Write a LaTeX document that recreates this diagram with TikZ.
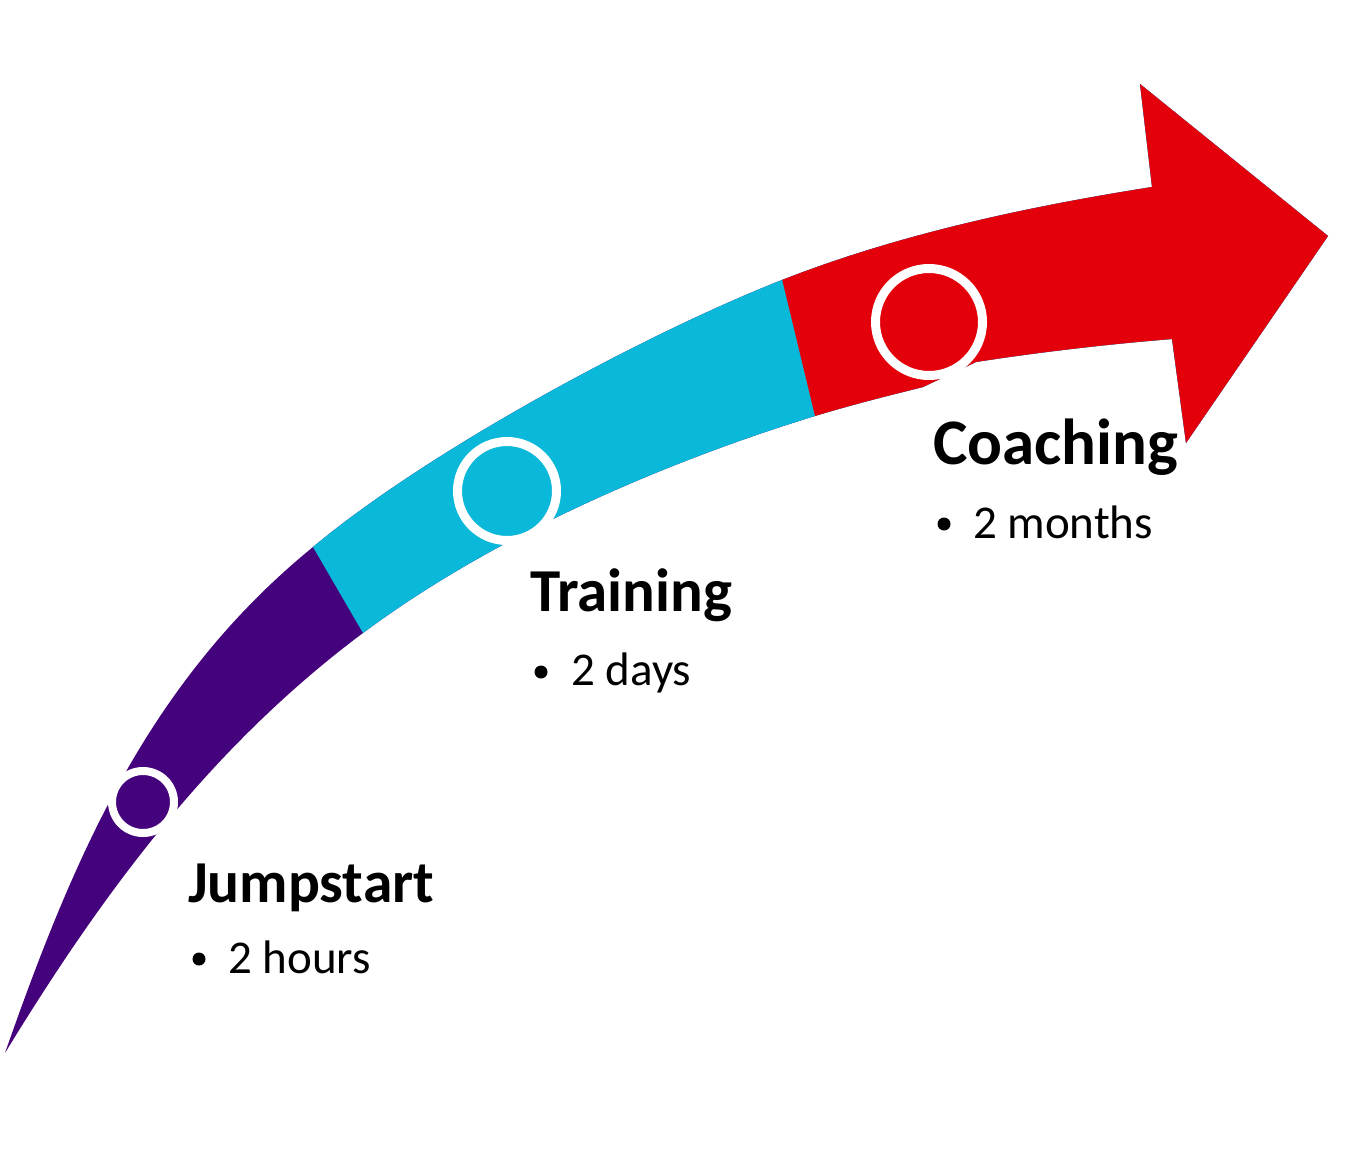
\documentclass[tikz,border=0pt]{standalone}
\usepackage{fontspec}
\setmainfont{Carlito}
\definecolor{jpurple}{HTML}{44037C}
\definecolor{jcyan}{HTML}{0AB8D9}
\definecolor{jred}{HTML}{E3000B}
\newcommand\bandpath{(5,1053) .. controls (75,853) and (150,680) .. (313,547)
  .. controls (433,447) and (652,331) .. (782,280)
  .. controls (902,233) and (1032,206) .. (1152,187)
  -- (1140,84) -- (1328,236) -- (1186,443) -- (1172,339)
  .. controls (1110,344) and (1040,352) .. (976,362) -- (923,387)
  .. controls (887,396) and (851,405) .. (815,416)
  .. controls (665,462) and (493,536) .. (363,633)
  .. controls (213,745) and (105,889) .. (5,1053) -- cycle}
\tikzset{
  ring/.style={circle, draw=white, line width=#1, inner sep=0pt, outer sep=0pt},
  ring/.default=8pt,
  title/.style={font=\bfseries\fontsize{#1}{#1}\selectfont, inner sep=0pt, anchor=base west},
  item/.style={font=\fontsize{47}{50}\selectfont, inner sep=0pt, anchor=base west},
  dot/.style={circle, fill=black, inner sep=0pt, minimum size=13pt}
}
\begin{document}
\begin{tikzpicture}[x=1pt,y=-1pt]
\useasboundingbox (0,0) rectangle (1346,1169);
% band, purple first
\fill[jpurple] \bandpath;
\begin{scope}
  \clip (63,117) -- (613,1063) -- (1346,1169) -- (1346,0) -- (63,0) -- cycle;
  \fill[jcyan] \bandpath;
\end{scope}
\begin{scope}
  \clip (716,5) -- (980,1101) -- (1346,1169) -- (1346,0) -- (716,0) -- cycle;
  \fill[jred] \bandpath;
\end{scope}
% milestone circles
\node[ring=8pt, fill=jpurple, minimum size=62pt] (c1) at (143,802) {};
\node[ring=9pt, fill=jcyan, minimum size=99pt] (c2) at (507,491) {};
\node[ring=9pt, fill=jred, minimum size=107pt] (c3) at (929,322) {};
% labels
\node[title=59.5] (t1) at (188,902) {Jumpstart};
\node[dot] (b1) at (199,959) {};
\node[item] (i1) at (228,973) {2 hours};
\node[title=61] (t2) at (530,611) {Training};
\node[dot] (b2) at (541,672) {};
\node[item] (i2) at (571,685) {2 days};
\node[title=65] (t3) at (933,464) {Coaching};
\node[dot] (b3) at (944,524) {};
\node[item] (i3) at (973,538) {2 months};
\end{tikzpicture}
\end{document}
